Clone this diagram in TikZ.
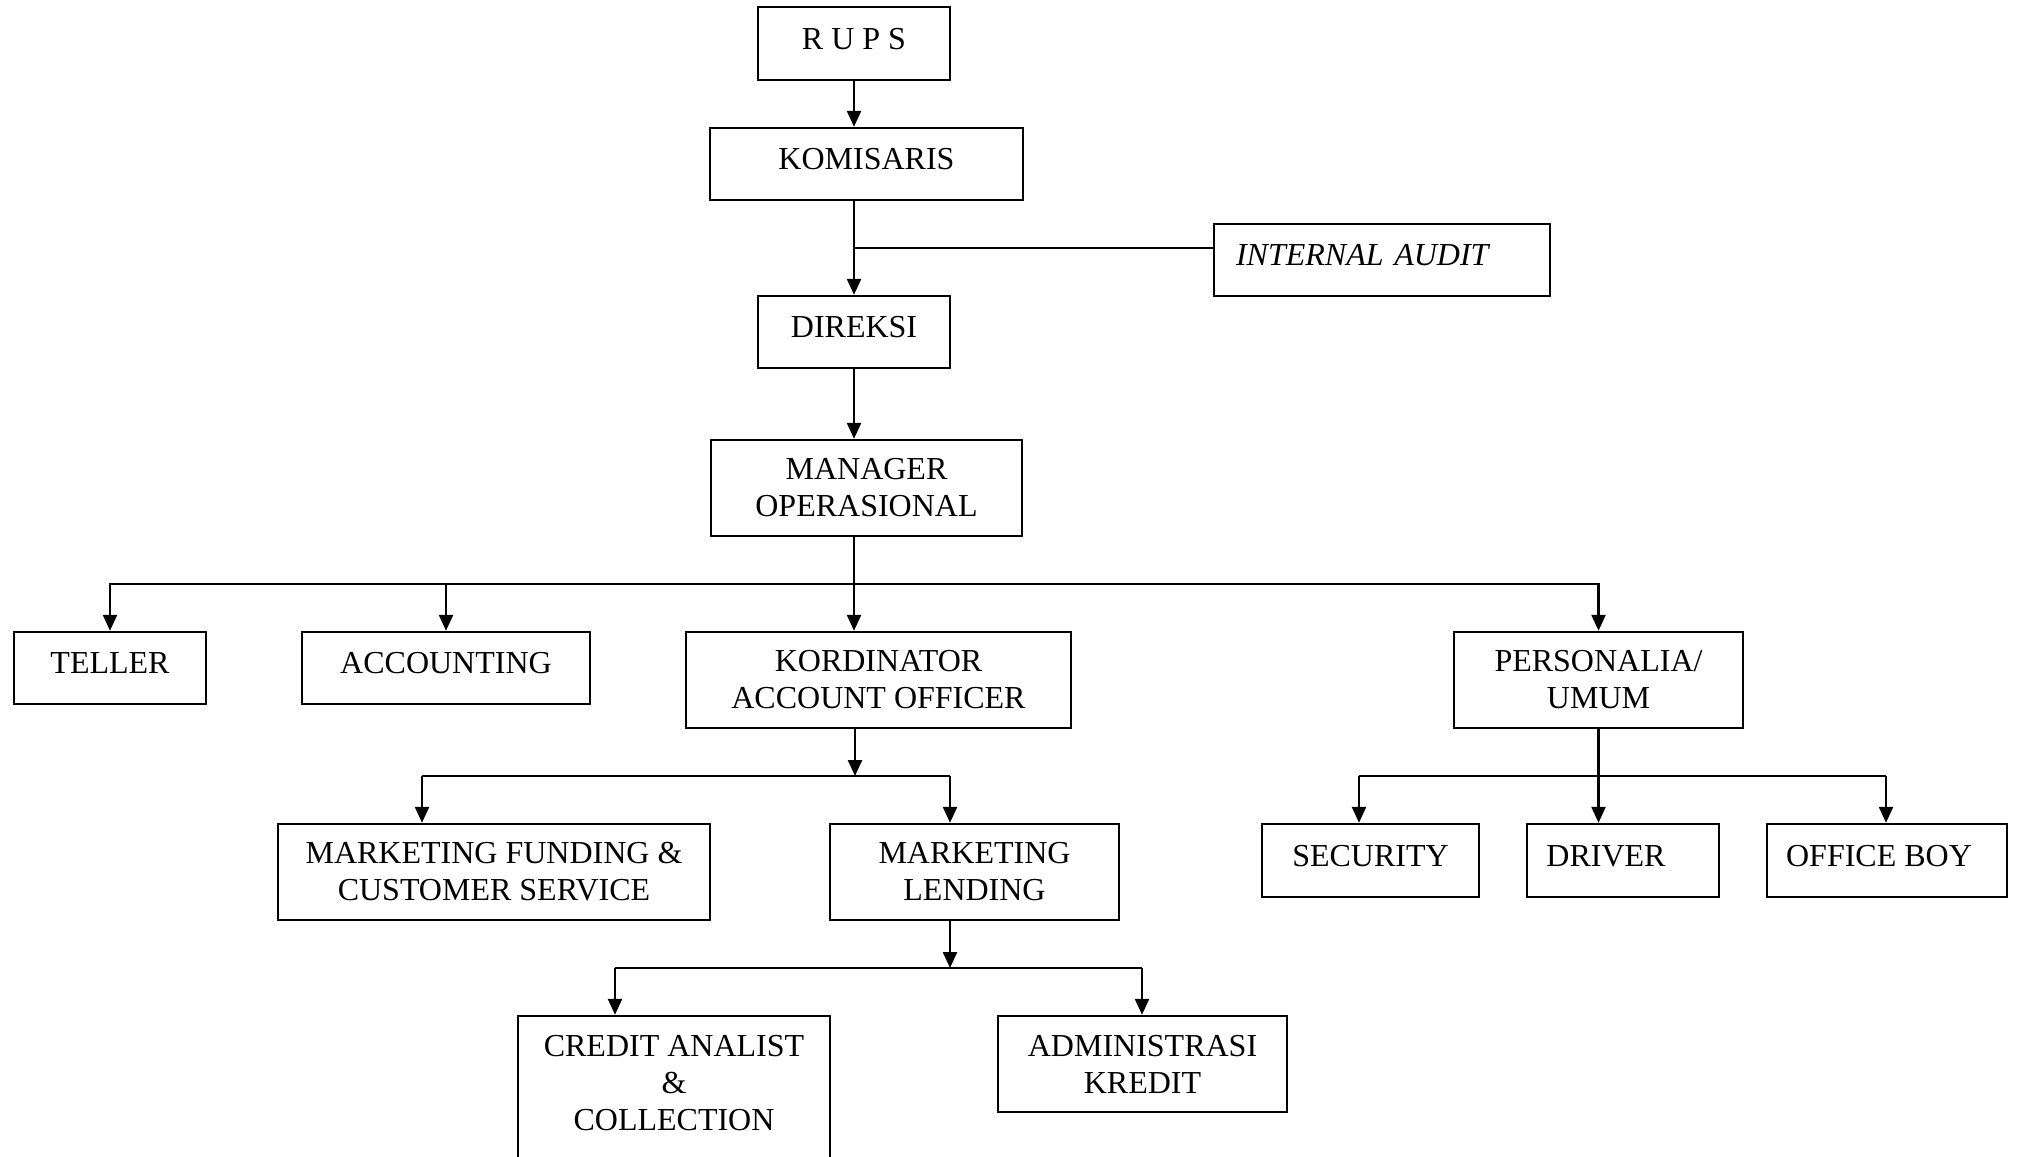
\documentclass[tikz,border=0pt]{standalone}
\usepackage{fontspec}
\setmainfont{Liberation Serif}
\usetikzlibrary{arrows.meta}

\begin{document}
\begin{tikzpicture}[x=0.5pt,y=-0.5pt,
        font=\fontsize{16}{18.5}\selectfont,
        unit/.style={draw,line width=1.2pt,inner sep=0pt,align=center},
        one/.style={text height=10.6pt,text depth=5pt},
        arr/.style={line width=1.2pt,-{Triangle[length=8pt,width=7pt]}}]
        \useasboundingbox (0,0) rectangle (2017,1156);

        % top of the chart
        \node[unit,one,minimum width=96pt,minimum height=36.5pt] (rups) at (854,43.5) {R U P S};
        \node[unit,one,minimum width=156.5pt,minimum height=36pt] (komisaris) at (866.5,164) {KOMISARIS};
        \node[unit,one,minimum height=36pt,inner xsep=11pt,text width=146pt,align=left] (audit) at (1382,260) {\textit{INTERNAL AUDIT}};
        \node[unit,one,minimum width=96pt,minimum height=36pt] (direksi) at (854,332) {DIREKSI};
        \node[unit,minimum width=155.5pt,minimum height=48pt] (manager) at (866.5,488) {MANAGER\\OPERASIONAL};

        % second row
        \node[unit,one,minimum width=96pt,minimum height=36pt] (teller) at (110,668) {TELLER};
        \node[unit,one,minimum width=144pt,minimum height=36pt] (accounting) at (446,668) {ACCOUNTING};
        \node[unit,minimum width=192.5pt,minimum height=48pt] (kordinator) at (878.5,680) {KORDINATOR\\ACCOUNT OFFICER};
        \node[unit,minimum width=144.5pt,minimum height=48pt] (personalia) at (1598.5,680) {PERSONALIA/\\UMUM};

        % third row
        \node[unit,minimum width=216pt,minimum height=48pt] (funding) at (494,872) {MARKETING FUNDING \&\\CUSTOMER SERVICE};
        \node[unit,minimum width=144.5pt,minimum height=48pt] (lending) at (974.5,872) {MARKETING\\LENDING};
        \node[unit,one,minimum width=108.5pt,minimum height=36.5pt] (security) at (1370.5,860.5) {SECURITY};
        \node[unit,one,minimum width=96pt,minimum height=36.5pt] (driver) at (1623,860.5) {DRIVER\hspace*{17pt}};
        \node[unit,one,minimum width=120pt,minimum height=36.5pt] (officeboy) at (1887,860.5) {OFFICE BOY\hspace*{8pt}};

        % last row
        \node[unit,minimum width=156pt,minimum height=72pt] (analist) at (674,1088) {CREDIT ANALIST\\\&\\COLLECTION\\[-13.5pt]\mbox{}};
        \node[unit,minimum width=144.5pt,minimum height=48pt] (admin) at (1142.5,1064) {ADMINISTRASI\\KREDIT};

        % bus points
        \coordinate (tap) at (854,248);
        \coordinate (bus) at (854,584);
        \coordinate (kb) at (855,776);
        \coordinate (kb-l) at (422,776);
        \coordinate (kb-r) at (950,776);
        \coordinate (pb-l) at (1359,776);
        \coordinate (pb-r) at (1886,776);
        \coordinate (lb) at (950,968);
        \coordinate (lb-l) at (615,968);
        \coordinate (lb-r) at (1142,968);

        \draw[arr] (rups) -- (rups |- komisaris.north);
        \draw[arr] (komisaris.south -| rups) -- (direksi);
        \draw[line width=1.2pt] (tap) -- (tap -| audit.west);
        \draw[arr] (direksi) -- (direksi |- manager.north);

        \draw[arr] (manager.south -| bus) -- (kordinator.north -| bus);
        \draw[arr] (bus) -| (teller);
        \draw[arr] (bus -| accounting) -- (accounting);
        \draw[arr] (bus) -| (personalia);

        \draw[arr] (kordinator.south -| kb) -- (kb);
        \draw[line width=1.2pt] (kb-l) -- (kb-r);
        \draw[arr] (kb-l) -- (kb-l |- funding.north);
        \draw[arr] (kb-r) -- (kb-r |- lending.north);

        \draw[arr] (personalia) -- (personalia |- driver.north);
        \draw[line width=1.2pt] (pb-l) -- (pb-r);
        \draw[arr] (pb-l) -- (pb-l |- security.north);
        \draw[arr] (pb-r) -- (pb-r |- officeboy.north);

        \draw[arr] (lending.south -| lb) -- (lb);
        \draw[line width=1.2pt] (lb-l) -- (lb-r);
        \draw[arr] (lb-l) -- (lb-l |- analist.north);
        \draw[arr] (lb-r) -- (lb-r |- admin.north);
\end{tikzpicture}
\end{document}
